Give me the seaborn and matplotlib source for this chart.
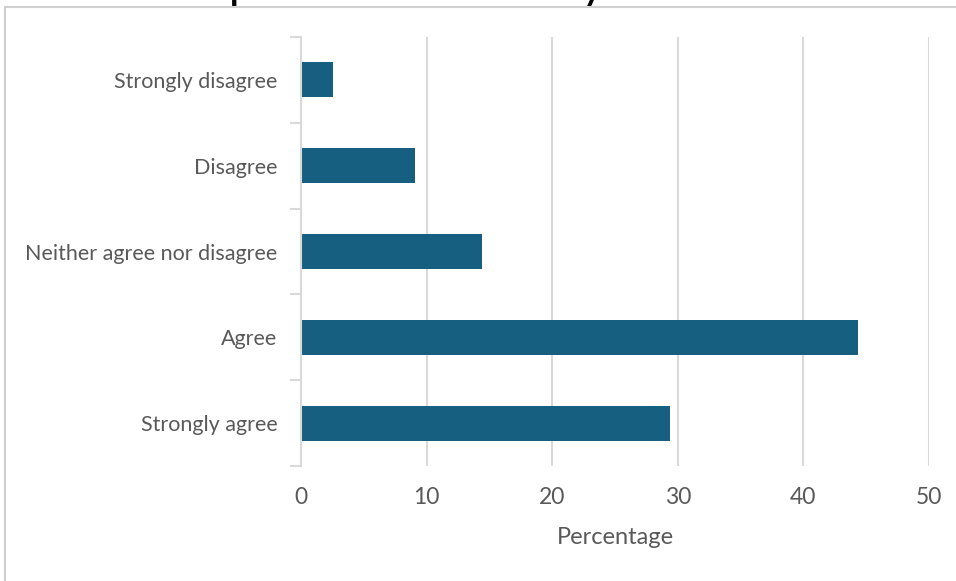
import numpy as np
import pandas as pd
import matplotlib
matplotlib.use("Agg")
import matplotlib.pyplot as plt
from matplotlib.patches import Rectangle
import seaborn as sns

# Survey responses (percentage of respondents)
categories = ["Strongly disagree", "Disagree", "Neither agree nor disagree",
              "Agree", "Strongly agree"]
percentages = [2.55, 9.1, 14.4, 44.35, 29.4]
x_ticks = [0, 10, 20, 30, 40, 50]
title_text = "providers and services you need"
x_label = "Percentage"

BAR_COLOR = "#175f80"
GRID_COLOR = "#d9d9d9"
TEXT_COLOR = "#595959"

sns.set_theme(style="white")
plt.rcParams["font.family"] = ["Lato", "DejaVu Sans"]

W, H = 956, 581
fig = plt.figure(figsize=(W / 100, H / 100), dpi=100)
fig.patch.set_facecolor("white")

# Chart frame
fig.patches.append(Rectangle((5 / W, -0.1), 1.2, 1 - 7 / H + 0.1,
                             transform=fig.transFigure, fill=False,
                             edgecolor="#d0d0d0", linewidth=1.5))

ax = fig.add_axes([301 / W, 1 - 466 / H, (929 - 301) / W, (466 - 37) / H])

df = pd.DataFrame({"category": categories, "pct": percentages})
sns.barplot(data=df, x="pct", y="category", orient="h", color=BAR_COLOR,
            width=0.41, saturation=1, linewidth=0, ax=ax)

ax.set_xlim(0, 50)
ax.set_ylim(4.5, -0.5)
ax.set_xticks(x_ticks)
ax.set_xticklabels([str(t) for t in x_ticks])
ax.xaxis.grid(True, color=GRID_COLOR, linewidth=1.5)
ax.set_axisbelow(True)

for side in ["top", "right", "bottom"]:
    ax.spines[side].set_visible(False)
ax.spines["left"].set_color(GRID_COLOR)
ax.spines["left"].set_linewidth(1.5)

ax.set_yticks(np.arange(-0.5, len(categories)), minor=True)
ax.tick_params(axis="y", which="minor", length=8, width=1.5, color=GRID_COLOR, left=True)
ax.tick_params(axis="y", which="major", length=0, pad=17, labelsize=15.5,
               labelcolor=TEXT_COLOR)
ax.tick_params(axis="x", which="major", length=0, pad=15, labelsize=16.5,
               labelcolor=TEXT_COLOR)

ax.set_ylabel("")
ax.set_xlabel(x_label, fontsize=17, color=TEXT_COLOR, labelpad=14)

# Title line running off the top edge of the frame
fig.text(0.5, 1 - 0.5 / H, title_text, ha="center", va="baseline",
         fontsize=25, fontweight="bold", color="black")

fig.savefig("out.png", dpi=100, facecolor="white")
